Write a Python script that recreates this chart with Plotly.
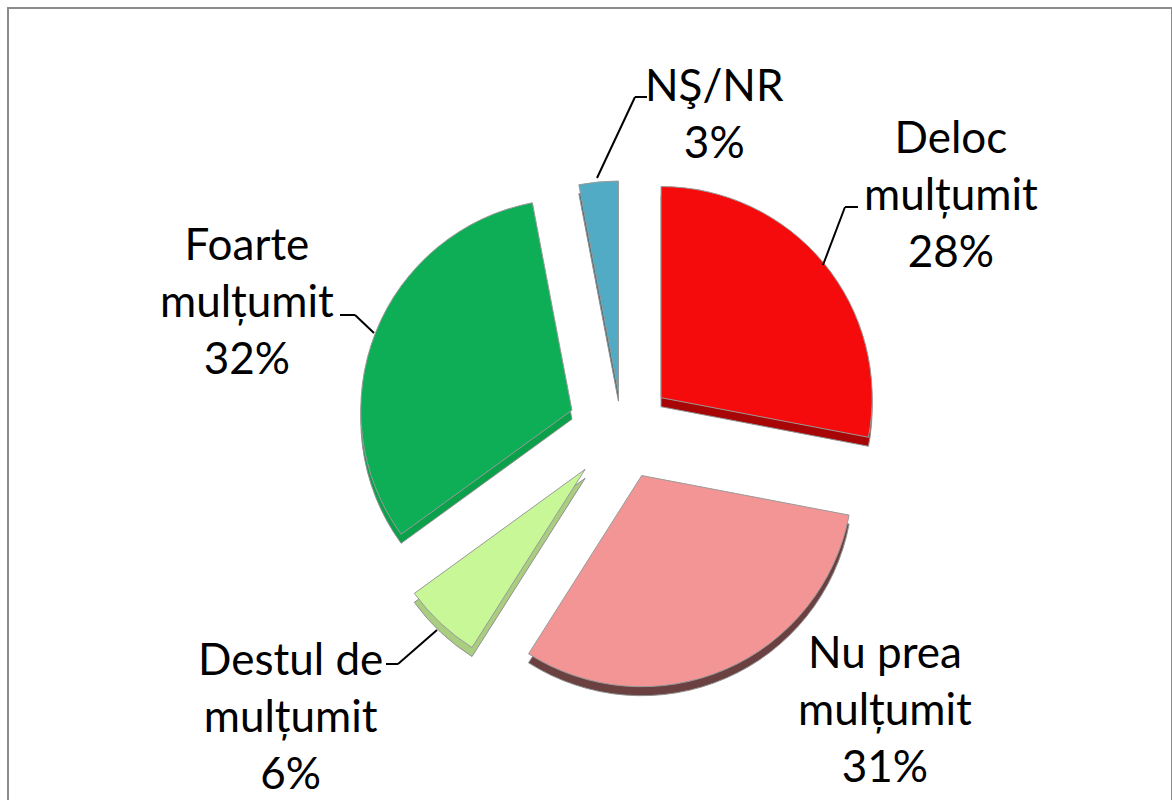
import plotly.graph_objects as go

W, H = 1172, 800
labels = ["Deloc mulțumit", "Nu prea mulțumit", "Destul de mulțumit", "Foarte mulțumit", "NŞ/NR"]
values = [28, 31, 6, 32, 3]
colors = ["#F50B0B", "#F39595", "#C8F797", "#0DAE55", "#52ABC5"]
depth_colors = ["#A80606", "#6B4040", "#A9CE80", "#0AA14A", "#35707F"]
pulls = [0.24, 0.235, 0.255, 0.255, 0.18]
text_labels = ["Deloc<br>mulțumit<br>28%", "Nu prea<br>mulțumit<br>31%", "Destul de<br>mulțumit<br>6%",
               "Foarte<br>mulțumit<br>32%", "NŞ/NR<br>3%"]
text_centres = [(951, 193), (885, 708), (290, 715), (247, 300), (714, 113)]
leaders = [[(823, 265), (845, 207), (858, 207)],
           [(437, 630), (398, 664), (386, 664)],
           [(374, 333), (355, 315), (340, 315)],
           [(597, 178), (635, 97), (647, 97)]]

CX, CY, R = 622, 430, 265


def px(x):
    return x / W


def py(y):
    return 1 - y / H


def pie(cy, cols, line):
    return go.Pie(
        values=values, labels=labels, sort=False, direction="clockwise", rotation=0,
        pull=pulls, marker=dict(colors=cols, line=dict(color=line, width=1)),
        textinfo="none", hoverinfo="label+percent", showlegend=False,
        domain=dict(x=[px(CX - R), px(CX + R)], y=[py(cy + R), py(cy - R)]),
    )


fig = go.Figure([pie(CY + 9, depth_colors, "#909090"), pie(CY, colors, "#9A9A9A")])

shapes = [dict(type="rect", xref="paper", yref="paper", x0=px(8), x1=px(1172), y0=py(815), y1=py(8),
               line=dict(color="#8C8C8C", width=2), layer="below")]
for pts in leaders:
    for (a, b), (c, d) in zip(pts, pts[1:]):
        shapes.append(dict(type="line", xref="paper", yref="paper", x0=px(a), y0=py(b), x1=px(c), y1=py(d),
                           line=dict(color="#000000", width=2)))

annotations = [dict(text=t, x=px(x), y=py(y), xref="paper", yref="paper", showarrow=False,
                    xanchor="center", yanchor="middle", align="center",
                    font=dict(family="Lato, Carlito, sans-serif", size=44, color="#000000"))
               for t, (x, y) in zip(text_labels, text_centres)]

fig.update_layout(width=W, height=H, margin=dict(l=0, r=0, t=0, b=0), autosize=False,
                  paper_bgcolor="#FFFFFF", shapes=shapes, annotations=annotations)
fig.write_html("out.html", config=dict(displayModeBar=False),
               post_script="document.body.style.margin='0';")
